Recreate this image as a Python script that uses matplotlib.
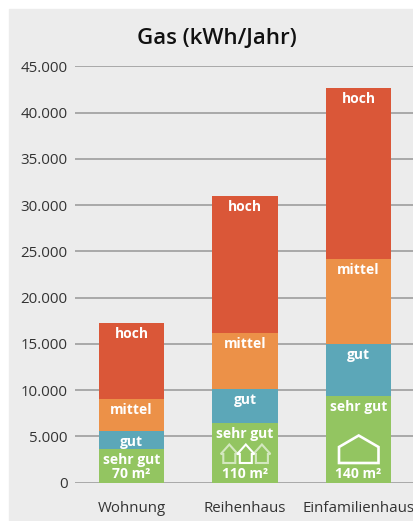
import matplotlib
matplotlib.use("Agg")
import matplotlib.pyplot as plt
from matplotlib.patches import Polygon, Rectangle

plt.rcParams['font.family'] = ['Open Sans', 'DejaVu Sans']

W, H = 414, 521
categories = ["Wohnung", "Reihenhaus", "Einfamilienhaus"]
levels = ["sehr gut", "gut", "mittel", "hoch"]
level_colors = ["#93c561", "#5ca7b8", "#ec9148", "#da5738"]
sehr_gut = [3640, 6450, 9370]
gut = [1950, 3680, 5630]
mittel = [3460, 6050, 9200]
hoch = [8210, 14820, 18450]
areas = ["70 m²", "110 m²", "140 m²"]
yticks = [0, 5000, 10000, 15000, 20000, 25000, 30000, 35000, 40000, 45000]
ytick_labels = ["0", "5.000", "10.000", "15.000", "20.000", "25.000", "30.000", "35.000", "40.000", "45.000"]

def px_x(x):
    return x / W
def px_y(y):
    return 1 - y / H
def outline(fig, pts, lw, alpha=1.0):
    pts = [(px_x(a), px_y(b)) for a, b in pts]
    fig.add_artist(Polygon(pts, closed=True, fill=False, edgecolor="white", linewidth=lw,
                           alpha=alpha, transform=fig.transFigure, zorder=5, joinstyle="miter"))
def small_house(fig, cx, alpha=1.0):
    # arrow shaped house of the row, sizes in pixels
    base, eave, apex = 463, 454, 444.5
    outline(fig, [(cx - 6, base), (cx + 6, base), (cx + 6, eave), (cx + 8.5, eave), (cx, apex),
                  (cx - 8.5, eave), (cx - 6, eave)], 1.5, alpha)

fig = plt.figure(figsize=(W / 100, H / 100), dpi=100, facecolor="white")
fig.add_artist(Rectangle((px_x(9), 0), 1 - px_x(9), px_y(9), color="#ececec",
                         transform=fig.transFigure, zorder=-5))

ax = fig.add_axes([px_x(75), px_y(482.7), 1 - px_x(75), (482.7 - 66.3) / H])
ax.patch.set_alpha(0)
ax.set_xlim(-0.498, 2.489)
ax.set_ylim(0, 45000)
for s in ax.spines.values():
    s.set_visible(False)
ax.set_yticks(yticks)
ax.set_yticklabels(ytick_labels, fontsize=10.8, color="#333333")
ax.set_xticks(range(3))
ax.set_xticklabels(categories, fontsize=10.8, color="#333333")
ax.tick_params(length=0)
ax.tick_params(axis="y", pad=5.3)
ax.tick_params(axis="x", pad=13.5)
ax.grid(axis="y", color="#a3a3a3", linewidth=1.3)
ax.set_axisbelow(True)

bottom = [0, 0, 0]
series = [sehr_gut, gut, mittel, hoch]
for vals, name, col in zip(series, levels, level_colors):
    ax.bar(range(3), vals, width=0.573, bottom=bottom, color=col, linewidth=0, zorder=3)
    tops = [b + v for b, v in zip(bottom, vals)]
    for i in range(3):
        ax.annotate(name, (i, tops[i]), xytext=(0, -3), textcoords="offset points",
                    ha="center", va="top", color="white", fontsize=10,
                    fontweight="bold", zorder=4)
    bottom = tops

for i, a in enumerate(areas):
    ax.annotate(a, (i, 0), xytext=(0, 1), textcoords="offset points", ha="center", va="bottom",
                color="white", fontsize=10, fontweight="bold", zorder=4)

# icons
outline(fig, [(339, 463), (378.5, 463), (378.5, 447), (358.7, 435.5), (339, 447)], 1.9)
small_house(fig, 229.3, 0.6)
small_house(fig, 245.8)
small_house(fig, 261.9, 0.6)

fig.text(px_x(217), px_y(38), "Gas (kWh/Jahr)", ha="center", va="center", fontsize=16,
         fontweight="semibold", color="#111111")

fig.savefig("out.png", dpi=100, facecolor=fig.get_facecolor())
